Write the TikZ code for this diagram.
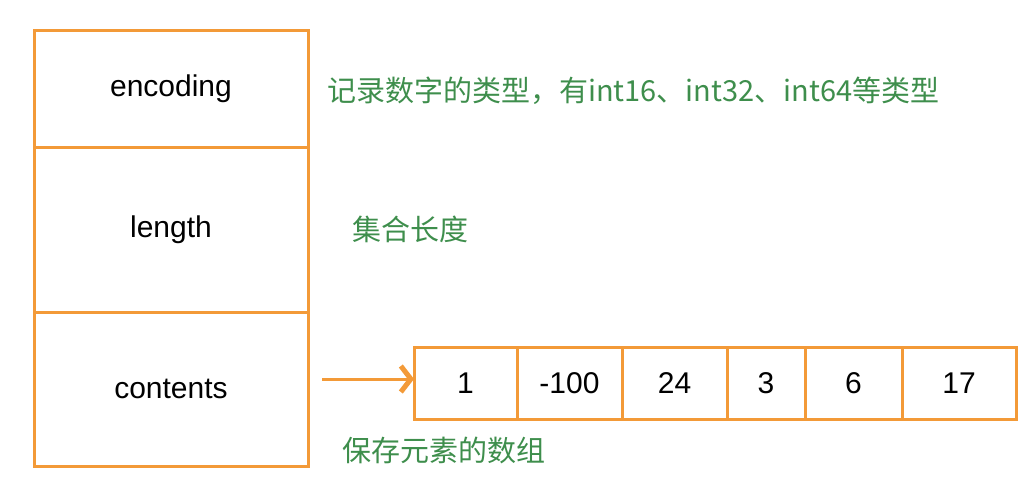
\documentclass[tikz,border=0pt]{standalone}
\usepackage{fontspec}
\setmainfont{Liberation Sans}
\newfontfamily\cjk{Noto Sans CJK SC}
\usetikzlibrary{positioning,arrows.meta}

\definecolor{myorange}{HTML}{F39A38}
\definecolor{mygreen}{HTML}{3E8E4C}

\begin{document}
\begin{tikzpicture}[x=1pt, y=-1pt,
		field/.style = {draw = myorange, line width = 3pt, minimum width = 274pt, inner sep = 0pt, outer sep = 0pt},
		cell/.style = {draw = myorange, line width = 3pt, minimum height = 72pt, inner sep = 0pt, outer sep = 0pt, anchor = north west},
		note/.style = {text = mygreen, font = \cjk\fontsize{29}{34}\selectfont, anchor = west, inner sep = 0pt}]
		\tikzstyle{every node} += [font = \fontsize{30}{34}\selectfont]
		\useasboundingbox (0,0) rectangle (1034,490);

		% the structure
		\node[field, minimum height = 117pt, anchor = north west] (encoding) at (34,30) {encoding};
		\node[field, minimum height = 165pt, below = 0pt of encoding] (length) {length};
		\node[field, minimum height = 154pt, below = 0pt of length] (contents) {contents};

		% the array
		\foreach \x/\w/\v [count = \i] in {414/103/1, 517/105/-100, 622/105/24, 727/78/3, 805/97/6, 902/114/17}
		{
			\node[cell, minimum width = \w pt] (cell\i) at (\x,347) {\v};
		}

		\coordinate (start) at (322,379);
		\draw[myorange, line width = 3pt, -{Straight Barb[length = 10pt, width = 26pt, line width = 5pt]}] (start) -- (start -| cell1.west);

		% notes
		\node[note] (encnote) at (327,91) {记录数字的类型，有int16、int32、int64等类型};
		\node[note] (lennote) at (352,229) {集合长度};
		\node[note] (connote) at (342,450) {保存元素的数组};
	\end{tikzpicture}
\end{document}
